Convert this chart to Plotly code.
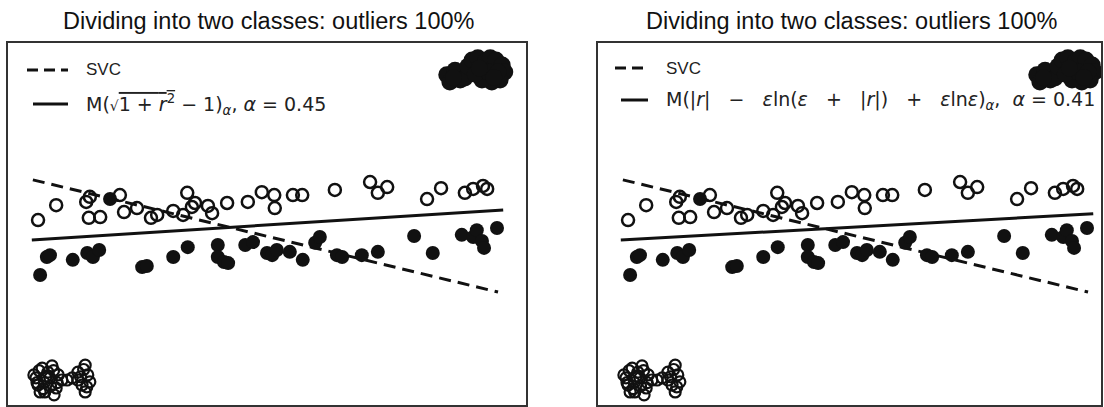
import plotly.graph_objects as go

W, H = 1104, 407

# Class "+": open circles
open_x = [0.58, 0.93, 1.51, 1.58, 1.56, 1.78, 2.16, 2.24, 2.49, 2.76, 2.88, 3.19,
          3.38, 3.46, 3.55, 3.61, 3.86, 3.94, 4.23, 4.63, 4.90, 5.14, 5.15, 5.50,
          5.68, 6.31, 6.99, 7.14, 7.32, 8.09, 8.36, 8.82, 8.98, 9.17, 9.25]
open_y = [5.11, 5.52, 5.61, 5.75, 5.17, 5.19, 5.80, 5.33, 5.44, 5.17, 5.25, 5.36,
          5.25, 5.86, 5.47, 5.58, 5.50, 5.30, 5.58, 5.61, 5.88, 5.80, 5.44, 5.80,
          5.80, 5.94, 6.16, 5.86, 6.02, 5.69, 5.99, 5.86, 5.97, 6.05, 5.97]

# Class "-": filled circles
filled_x = [0.62, 0.75, 0.81, 1.25, 1.53, 1.64, 1.76, 1.97, 2.59, 2.68, 3.19, 3.47,
            4.05, 4.05, 4.17, 4.25, 4.58, 4.73, 5.00, 5.10, 5.19, 5.44, 5.69, 5.93,
            6.02, 6.35, 6.45, 6.83, 7.14, 7.84, 8.20, 8.76, 8.98, 9.05, 9.15, 9.19, 9.44]
filled_y = [3.59, 4.09, 4.14, 4.01, 4.20, 4.09, 4.28, 5.69, 3.81, 3.84, 4.09, 4.36,
            4.42, 4.09, 3.95, 3.92, 4.42, 4.50, 4.20, 4.14, 4.28, 4.23, 4.01, 4.48,
            4.64, 4.14, 4.09, 4.14, 4.23, 4.67, 4.20, 4.70, 4.64, 4.83, 4.53, 4.34, 4.89]

# Outliers: filled-class points placed far top-right
out_filled_x = [8.47, 8.53, 8.63, 8.73, 8.82, 8.88, 8.96, 9.07, 9.21, 9.31, 9.42,
                9.54, 9.59, 9.50, 9.34, 9.15, 9.02, 9.27, 9.46, 8.60, 9.10, 9.38]
out_filled_y = [9.12, 8.92, 9.25, 8.98, 9.03, 9.36, 9.53, 9.59, 9.48, 9.59, 9.53,
                9.39, 9.20, 8.98, 8.92, 8.98, 9.14, 9.20, 9.20, 9.05, 9.30, 9.05]

# Outliers: open-class points placed far bottom-left
out_open_x = [0.50, 0.58, 0.66, 0.71, 0.81, 0.85, 0.93, 0.77, 0.62, 0.97, 0.54,
              0.89, 1.04, 1.14, 1.24, 1.35, 1.49, 1.54, 1.43, 1.58, 1.49, 1.35,
              0.60, 0.70, 0.74, 0.88, 0.95, 0.68, 0.82, 0.56, 1.46, 1.40, 1.52]
out_open_y = [0.83, 0.55, 1.02, 0.36, 0.75, 1.08, 0.47, 0.91, 0.36, 0.83, 0.75,
              0.28, 0.69, 0.69, 0.75, 0.91, 1.10, 0.83, 0.55, 0.64, 0.36, 0.69,
              0.95, 0.62, 0.80, 0.95, 0.62, 0.45, 0.52, 0.62, 0.98, 0.78, 0.50]

# Separating lines
svc_x = [0.48, 9.46]
svc_y = [6.22, 3.12]
m_sqrt_x = [0.46, 9.56]
m_sqrt_y = [4.56, 5.39]
m_log_x = [0.44, 9.56]
m_log_y = [4.56, 5.28]

titles = ["Dividing into two classes: outliers 100%",
          "Dividing into two classes: outliers 100%"]
label_svc = "SVC"
label_sqrt = ("M(<span style='font-size:14px'>√</span><span style='text-decoration:overline'>"
              "1 + <i>r</i><sup>2</sup></span>"
              " − 1)<sub><i>α</i></sub>, <i>α</i> = 0.45")
label_log = ("M(|<i>r</i>|   −   <i>ε</i>ln(<i>ε</i>   +   |<i>r</i>|)   +   <i>ε</i>ln<i>ε</i>)"
             "<sub><i>α</i></sub>,  <i>α</i> = 0.41")

fig = go.Figure()

panels = [
    dict(xa="x", ya="y", mx=m_sqrt_x, my=m_sqrt_y),
    dict(xa="x2", ya="y2", mx=m_log_x, my=m_log_y),
]
for p in panels:
    fig.add_trace(go.Scatter(x=svc_x, y=svc_y, mode="lines", xaxis=p["xa"], yaxis=p["ya"],
                             line=dict(color="#111", width=3, dash="12px,7px"), showlegend=False))
    fig.add_trace(go.Scatter(x=p["mx"], y=p["my"], mode="lines", xaxis=p["xa"], yaxis=p["ya"],
                             line=dict(color="#111", width=3), showlegend=False))
    fig.add_trace(go.Scatter(x=open_x, y=open_y, mode="markers",
                             xaxis=p["xa"], yaxis=p["ya"],
                             marker=dict(symbol="circle-open", size=12, color="#111",
                                         line=dict(width=2.5, color="#111")),
                             showlegend=False))
    fig.add_trace(go.Scatter(x=out_open_x, y=out_open_y, mode="markers",
                             xaxis=p["xa"], yaxis=p["ya"],
                             marker=dict(symbol="circle-open", size=11, color="#111",
                                         line=dict(width=2.2, color="#111")),
                             showlegend=False))
    fig.add_trace(go.Scatter(x=filled_x, y=filled_y, mode="markers",
                             xaxis=p["xa"], yaxis=p["ya"],
                             marker=dict(symbol="circle", size=14, color="#111"),
                             showlegend=False))
    fig.add_trace(go.Scatter(x=out_filled_x, y=out_filled_y, mode="markers",
                             xaxis=p["xa"], yaxis=p["ya"],
                             marker=dict(symbol="circle", size=17, color="#111"),
                             showlegend=False))

ax_common = dict(showgrid=False, zeroline=False, showticklabels=False, ticks="",
                 showline=True, mirror=True, linecolor="#333", linewidth=2)

fig.update_layout(
    width=W, height=H,
    margin=dict(l=0, r=0, t=0, b=0),
    paper_bgcolor="white", plot_bgcolor="white",
    xaxis=dict(domain=[8 / W, 526 / W], range=[0, 10], **ax_common),
    yaxis=dict(domain=[2 / H, 364 / H], range=[0, 10], **ax_common),
    xaxis2=dict(domain=[598 / W, 1101 / W], range=[0, 9.71], anchor="y2", **ax_common),
    yaxis2=dict(domain=[2 / H, 364 / H], range=[0, 10], anchor="x2", **ax_common),
)


def px(x):
    return x / W


def py(y):
    return 1 - y / H


title_font = dict(family="Liberation Sans, Arial, sans-serif", size=23.5, color="#111")
legend_font = dict(family="Liberation Sans, Arial, sans-serif", size=17, color="#222")
math_font = dict(family="DejaVu Sans, sans-serif", size=19, color="#222")

annotations = [
    dict(text=titles[0], x=px(269), y=py(21), font=title_font),
    dict(text=titles[1], x=px(852), y=py(21), font=title_font),
    dict(text=label_svc, x=px(84), y=py(70), xanchor="left", font=legend_font),
    dict(text=label_sqrt, x=px(84), y=py(104), xanchor="left", font=math_font),
    dict(text=label_svc, x=px(664), y=py(68), xanchor="left", font=legend_font),
    dict(text=label_log, x=px(664), y=py(100), xanchor="left", font=math_font),
]
for a in annotations:
    a.update(xref="paper", yref="paper", showarrow=False, yanchor="middle")
    a.setdefault("xanchor", "center")
fig.update_layout(annotations=annotations)

# Legend line samples
shapes = []
for x0, x1, yd, ys in [(27, 68, 70, 104), (615, 648, 68, 100)]:
    shapes.append(dict(type="line", xref="paper", yref="paper", x0=px(x0), x1=px(x1),
                       y0=py(yd), y1=py(yd), line=dict(color="#111", width=3, dash="11px,6px")))
    shapes.append(dict(type="line", xref="paper", yref="paper", x0=px(x0 + 6), x1=px(x1),
                       y0=py(ys), y1=py(ys), line=dict(color="#111", width=3)))
fig.update_layout(shapes=shapes)

fig.write_html("out.html")
